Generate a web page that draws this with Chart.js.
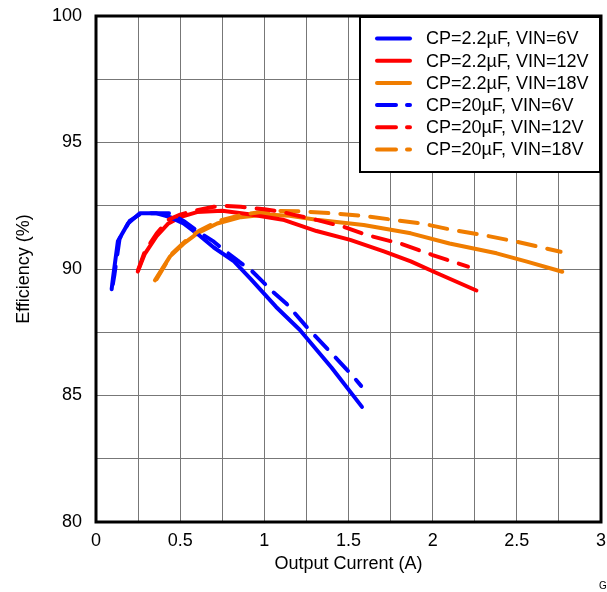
<!DOCTYPE html>
<html>
<head>
<meta charset="utf-8">
<script src="https://cdn.jsdelivr.net/npm/chart.js@4/dist/chart.umd.min.js"></script>
<style>
  html, body { margin: 0; padding: 0; background: #fff; }
  #c { display: block; }
</style>
</head>
<body>
<canvas id="c" width="607" height="592"></canvas>
<script>
// ---- Data (Output Current in A, Efficiency in %) ----
const seriesLabels = [
  'CP=2.2µF, VIN=6V',
  'CP=2.2µF, VIN=12V',
  'CP=2.2µF, VIN=18V',
  'CP=20µF, VIN=6V',
  'CP=20µF, VIN=12V',
  'CP=20µF, VIN=18V'
];

const b22X = [0.093, 0.10, 0.13, 0.19, 0.26, 0.36, 0.44, 0.52, 0.60, 0.70, 0.82, 0.92, 1.07, 1.21, 1.40, 1.58];
const b22Y = [89.2, 89.6, 91.1, 91.8, 92.2, 92.2, 92.05, 91.8, 91.4, 90.85, 90.3, 89.6, 88.5, 87.6, 86.1, 84.55];

const r22X = [0.248, 0.29, 0.36, 0.43, 0.50, 0.60, 0.75, 0.92, 1.11, 1.31, 1.51, 1.71, 1.87, 2.02, 2.26];
const r22Y = [89.9, 90.6, 91.3, 91.8, 92.05, 92.25, 92.3, 92.15, 91.95, 91.5, 91.15, 90.7, 90.3, 89.85, 89.15];

const o22X = [0.35, 0.44, 0.52, 0.60, 0.72, 0.86, 1.01, 1.15, 1.31, 1.59, 1.87, 2.10, 2.38, 2.56, 2.77];
const o22Y = [89.55, 90.5, 91.0, 91.4, 91.8, 92.05, 92.15, 92.1, 91.95, 91.74, 91.41, 91.01, 90.62, 90.29, 89.89];

const b20X = [0.10, 0.11, 0.14, 0.20, 0.27, 0.37, 0.44, 0.52, 0.62, 0.70, 0.76, 0.85, 0.92, 0.99, 1.05, 1.13, 1.25, 1.39, 1.52, 1.575];
const b20Y = [89.4, 89.8, 91.2, 91.9, 92.2, 92.2, 92.2, 91.9, 91.42, 91.08, 90.75, 90.29, 89.96, 89.5, 89.1, 88.64, 87.72, 86.73, 85.81, 85.38];

const r20X = [0.25, 0.29, 0.36, 0.43, 0.50, 0.58, 0.70, 0.76, 0.86, 1.00, 1.11, 1.17, 1.31, 1.47, 1.61, 1.81, 2.00, 2.21];
const r20Y = [89.95, 90.7, 91.4, 91.95, 92.15, 92.3, 92.46, 92.5, 92.46, 92.36, 92.25, 92.15, 91.94, 91.67, 91.34, 91.0, 90.55, 90.09];

const o20X = [0.36, 0.45, 0.53, 0.61, 0.73, 0.87, 0.98, 1.07, 1.21, 1.41, 1.59, 1.77, 1.95, 2.12, 2.30, 2.50, 2.76];
const o20Y = [89.6, 90.6, 91.1, 91.5, 91.9, 92.15, 92.25, 92.3, 92.28, 92.2, 92.1, 91.94, 91.78, 91.54, 91.34, 91.08, 90.68];

const xMin = 0, xMax = 3, xStep = 0.25;
const yMin = 80, yMax = 100, yStep = 2.5;

// ---- Styling ----
const BLUE = '#0000FF', RED = '#FF0000', ORANGE = '#F07D00';
const FONT = '"Liberation Sans", Arial, Helvetica, sans-serif';
const DASH = [18, 12];

function pts(xs, ys) { return xs.map((x, i) => ({ x: x, y: ys[i] })); }

function ds(label, xs, ys, color, dashed) {
  return {
    label: label,
    data: pts(xs, ys),
    borderColor: color,
    backgroundColor: color,
    borderWidth: 4,
    borderDash: dashed ? DASH : [],
    borderCapStyle: 'round',
    borderJoinStyle: 'round',
    pointRadius: 0,
    showLine: true,
    tension: 0,
    fill: false
  };
}

const datasets = [
  ds(seriesLabels[3], b20X, b20Y, BLUE, true),
  ds(seriesLabels[4], r20X, r20Y, RED, true),
  ds(seriesLabels[5], o20X, o20Y, ORANGE, true),
  ds(seriesLabels[0], b22X, b22Y, BLUE, false),
  ds(seriesLabels[1], r22X, r22Y, RED, false),
  ds(seriesLabels[2], o22X, o22Y, ORANGE, false)
];

const legendOrder = [
  { label: seriesLabels[0], color: BLUE, dashed: false },
  { label: seriesLabels[1], color: RED, dashed: false },
  { label: seriesLabels[2], color: ORANGE, dashed: false },
  { label: seriesLabels[3], color: BLUE, dashed: true },
  { label: seriesLabels[4], color: RED, dashed: true },
  { label: seriesLabels[5], color: ORANGE, dashed: true }
];

const framePlugin = {
  id: 'frameAndLegend',
  afterDraw(chart) {
    const ctx = chart.ctx;
    const a = chart.chartArea;
    ctx.save();
    // plot frame
    ctx.strokeStyle = '#000';
    ctx.lineWidth = 3;
    ctx.setLineDash([]);
    ctx.strokeRect(a.left, a.top, a.right - a.left, a.bottom - a.top);

    // legend box
    const bx = 360, by = a.top + 1, bw = a.right - 360 - 1, bh = 155;
    ctx.fillStyle = '#fff';
    ctx.fillRect(bx, by, bw, bh);
    ctx.lineWidth = 2;
    ctx.strokeRect(bx, by, bw, bh);

    ctx.font = '18px ' + FONT;
    ctx.textBaseline = 'middle';
    ctx.textAlign = 'left';
    legendOrder.forEach((it, i) => {
      const y = 38.5 + i * 22.2;
      ctx.beginPath();
      ctx.strokeStyle = it.color;
      ctx.lineWidth = 4;
      ctx.lineCap = 'round';
      ctx.setLineDash(it.dashed ? [19, 11] : []);
      ctx.moveTo(377, y);
      ctx.lineTo(410, y);
      ctx.stroke();
      ctx.setLineDash([]);
      ctx.fillStyle = '#000';
      ctx.fillText(it.label, 426, y + 1);
    });

    // figure id (cropped in reference)
    ctx.font = '10px ' + FONT;
    ctx.fillStyle = '#000';
    ctx.textBaseline = 'alphabetic';
    ctx.fillText('G', 599, 589);
    ctx.restore();
  }
};

function zeroPad(s) {
  s.paddingTop = 0; s.paddingBottom = 0; s.paddingLeft = 0; s.paddingRight = 0;
}

new Chart(document.getElementById('c'), {
  type: 'scatter',
  data: { datasets: datasets },
  options: {
    responsive: false,
    animation: false,
    devicePixelRatio: 1,
    layout: { padding: { left: 0, right: 6, top: 16, bottom: 0 } },
    plugins: {
      legend: { display: false },
      tooltip: { enabled: false }
    },
    scales: {
      x: {
        type: 'linear',
        min: xMin, max: xMax,
        afterFit(s) { s.height = 70; zeroPad(s); },
        border: { display: false },
        grid: { color: '#777', lineWidth: 1, drawTicks: false },
        ticks: {
          stepSize: xStep,
          padding: 8,
          color: '#000',
          font: { family: FONT, size: 18 },
          maxRotation: 0,
          autoSkip: false,
          callback(v) {
            return Math.abs(v * 2 - Math.round(v * 2)) < 1e-6 ? String(Math.round(v * 100) / 100) : '';
          }
        },
        title: {
          display: true,
          text: 'Output Current (A)',
          color: '#000',
          font: { family: FONT, size: 18 },
          padding: { top: 0, bottom: 17 }
        }
      },
      y: {
        type: 'linear',
        min: yMin, max: yMax,
        afterFit(s) { s.width = 96; zeroPad(s); },
        border: { display: false },
        grid: { color: '#777', lineWidth: 1, drawTicks: false },
        ticks: {
          stepSize: yStep,
          padding: 14,
          color: '#000',
          font: { family: FONT, size: 18 },
          autoSkip: false,
          callback(v) {
            return Math.abs(v / 5 - Math.round(v / 5)) < 1e-6 ? String(Math.round(v)) : '';
          }
        },
        title: {
          display: true,
          text: 'Efficiency (%)',
          color: '#000',
          font: { family: FONT, size: 18 },
          padding: { top: 13, bottom: 0 }
        }
      }
    }
  },
  plugins: [framePlugin]
});
</script>
</body>
</html>
